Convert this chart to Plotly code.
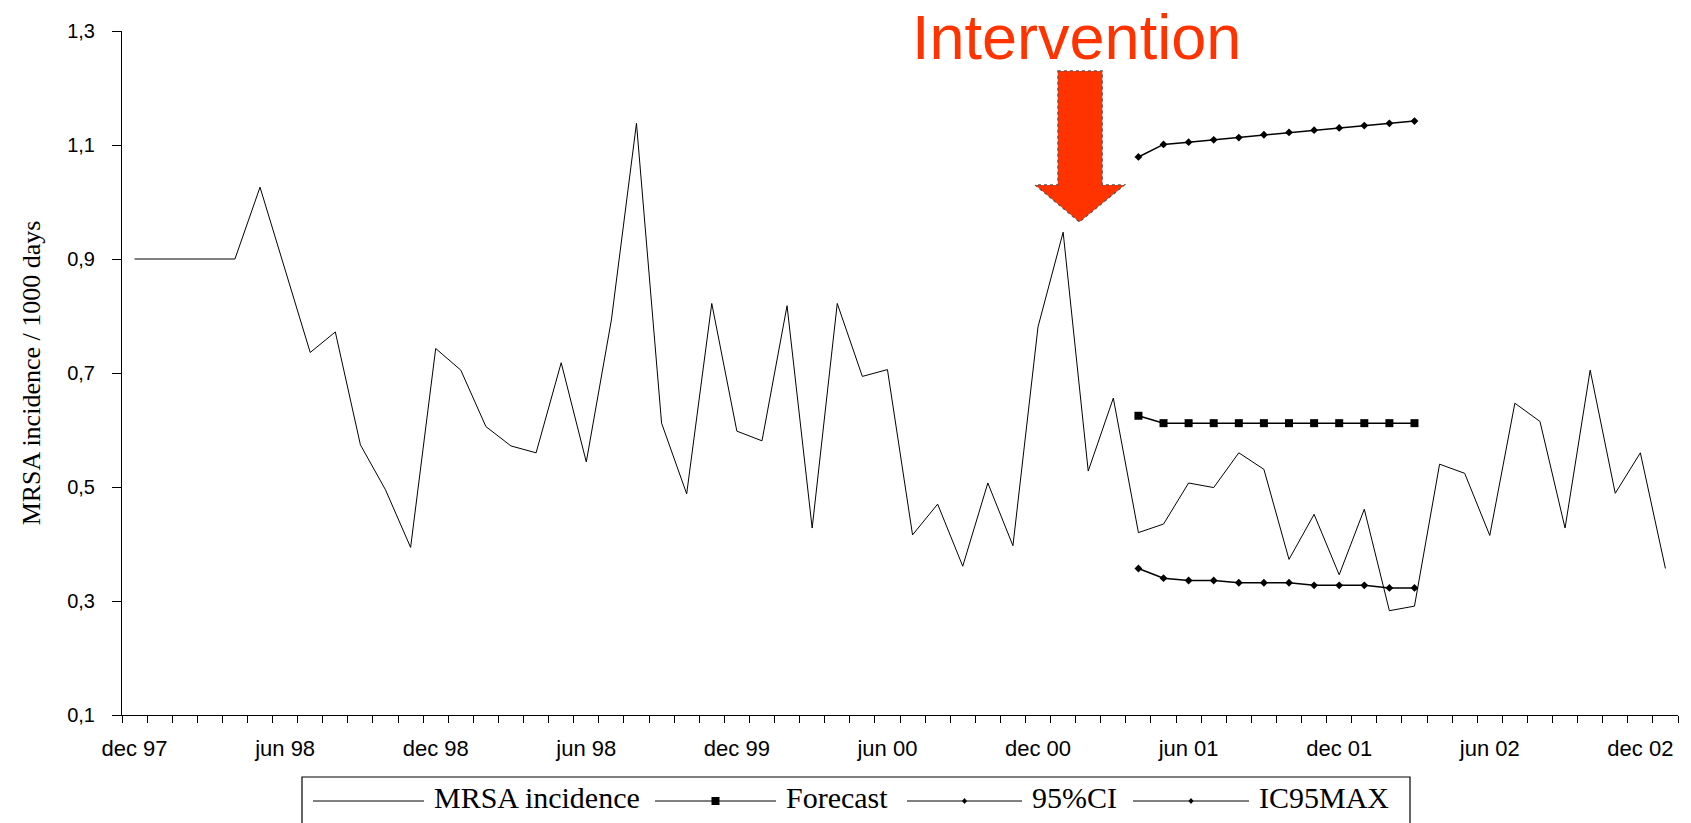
import plotly.graph_objects as go

# ---------------- data ----------------
mrsa_incidence = [
    0.900, 0.900, 0.900, 0.900, 0.900, 1.026, 0.882, 0.736, 0.772, 0.574,
    0.495, 0.394, 0.743, 0.705, 0.606, 0.572, 0.560, 0.718, 0.544, 0.793,
    1.138, 0.612, 0.488, 0.822, 0.598, 0.581, 0.818, 0.428, 0.822, 0.694,
    0.706, 0.416, 0.470, 0.361, 0.507, 0.397, 0.781, 0.947, 0.528, 0.656,
    0.420, 0.435, 0.507, 0.499, 0.560, 0.531, 0.373, 0.452, 0.346, 0.461,
    0.283, 0.291, 0.540, 0.524, 0.415, 0.647, 0.615, 0.428, 0.705, 0.489,
    0.560, 0.357,
]
forecast_start = 40
forecast = [0.625, 0.612, 0.612, 0.612, 0.612, 0.612, 0.612, 0.612, 0.612, 0.612, 0.612, 0.612]
ci95_low = [0.357, 0.340, 0.336, 0.336, 0.332, 0.332, 0.332, 0.3275, 0.3275, 0.3275, 0.323, 0.323]
ic95max = [1.079, 1.101, 1.105, 1.109, 1.113, 1.118, 1.122, 1.126, 1.130, 1.134, 1.138, 1.142]

tick_labels = ["dec 97", "jun 98", "dec 98", "jun 98", "dec 99", "jun 00",
               "dec 00", "jun 01", "dec 01", "jun 02", "dec 02"]
label_every = 6
y_ticks = [0.1, 0.3, 0.5, 0.7, 0.9, 1.1, 1.3]

series_names = ["MRSA incidence", "Forecast", "95%CI", "IC95MAX"]

# ---------------- layout geometry ----------------
W, H = 1691, 823
ML, MR, MT, MB = 122, 13, 31, 108
PW, PH = W - ML - MR, H - MT - MB


def px(X):
    return (X - ML) / PW


def py(Y):
    return (MT + PH - Y) / PH


n = len(mrsa_incidence)
x_all = list(range(n))
x_fc = list(range(forecast_start, forecast_start + len(forecast)))

RED = "#FF3300"
SANS = "Liberation Sans, Arial, sans-serif"
SERIF = "Liberation Serif, Times New Roman, serif"

fig = go.Figure()
fig.add_trace(go.Scatter(x=x_all, y=mrsa_incidence, name=series_names[0], mode="lines",
                         line=dict(color="black", width=1), showlegend=False))
fig.add_trace(go.Scatter(x=x_fc, y=forecast, name=series_names[1], mode="lines+markers",
                         line=dict(color="black", width=1.5),
                         marker=dict(symbol="square", size=8, color="black"), showlegend=False))
fig.add_trace(go.Scatter(x=x_fc, y=ci95_low, name=series_names[2], mode="lines+markers",
                         line=dict(color="black", width=1.5),
                         marker=dict(symbol="diamond", size=6, color="black"), showlegend=False))
fig.add_trace(go.Scatter(x=x_fc, y=ic95max, name=series_names[3], mode="lines+markers",
                         line=dict(color="black", width=1.5),
                         marker=dict(symbol="diamond", size=6, color="black"), showlegend=False))

shapes = []
annotations = []

# Intervention arrow (data coordinates: category index / incidence)
arrow_path = ("M 36.79,1.230 L 38.56,1.230 L 38.56,1.030 L 39.45,1.030 "
              "L 37.65,0.965 L 35.88,1.030 L 36.79,1.030 Z")
shapes.append(dict(type="path", xref="x", yref="y", path=arrow_path,
                   fillcolor=RED, line=dict(color="#555555", width=1.2, dash="dot"),
                   layer="above"))
annotations.append(dict(text="Intervention", xref="paper", yref="paper",
                        x=px(1076), y=py(0), xanchor="center", yanchor="top",
                        showarrow=False, font=dict(family=SANS, size=63, color=RED)))

# Custom legend (long line samples like the original)
shapes.append(dict(type="rect", xref="paper", yref="paper",
                   x0=px(302), x1=px(1410), y0=py(777), y1=py(840),
                   line=dict(color="black", width=1.2), fillcolor="white", layer="above"))
leg_y = 801
items = [
    (313, 424, 434, None),
    (655, 776, 786, "square"),
    (907, 1022, 1032, "diamond"),
    (1133, 1249, 1259, "diamond"),
]
for (lx0, lx1, tx, sym), name in zip(items, series_names):
    shapes.append(dict(type="line", xref="paper", yref="paper",
                       x0=px(lx0), x1=px(lx1), y0=py(leg_y), y1=py(leg_y),
                       line=dict(color="black", width=1), layer="above"))
    cx = (lx0 + lx1) / 2
    if sym == "square":
        shapes.append(dict(type="rect", xref="paper", yref="paper",
                           xsizemode="pixel", ysizemode="pixel",
                           xanchor=px(cx), yanchor=py(leg_y),
                           x0=-4, x1=4, y0=-4, y1=4,
                           fillcolor="black", line=dict(width=0), layer="above"))
    elif sym == "diamond":
        shapes.append(dict(type="path", xref="paper", yref="paper",
                           xsizemode="pixel", ysizemode="pixel",
                           xanchor=px(cx), yanchor=py(leg_y),
                           path="M 0,3 L 2.5,0 L 0,-3 L -2.5,0 Z",
                           fillcolor="black", line=dict(width=0), layer="above"))
    annotations.append(dict(text=name, xref="paper", yref="paper",
                            x=px(tx - 2), y=py(leg_y - 3), xanchor="left", yanchor="middle",
                            showarrow=False, font=dict(family=SERIF, size=30, color="black")))

fig.update_layout(
    width=W, height=H,
    margin=dict(l=ML, r=MR, t=MT, b=MB, pad=0),
    paper_bgcolor="white", plot_bgcolor="white",
    separators=", ",
    showlegend=False,
    shapes=shapes,
    annotations=annotations,
    xaxis=dict(
        range=[-0.5, n - 0.5],
        showgrid=False, zeroline=False,
        showline=True, linecolor="black", linewidth=1,
        tickmode="array",
        tickvals=list(range(0, n, label_every))[:len(tick_labels)],
        ticktext=tick_labels,
        ticks="",
        ticklabelstandoff=14,
        tickfont=dict(family=SANS, size=22, color="black"),
        minor=dict(ticks="outside", ticklen=7, tickwidth=1, tickcolor="black",
                   tickmode="array", tickvals=[i - 0.5 for i in range(n + 1)],
                   showgrid=False),
    ),
    yaxis=dict(
        range=[y_ticks[0], y_ticks[-1]],
        showgrid=False, zeroline=False,
        showline=True, linecolor="black", linewidth=1,
        tickmode="array", tickvals=y_ticks, tickformat=".1f",
        ticks="outside", ticklen=9, tickwidth=1, tickcolor="black",
        ticklabelstandoff=13,
        tickfont=dict(family=SANS, size=20, color="black"),
        title=dict(text="MRSA incidence / 1000 days",
                   font=dict(family=SERIF, size=26, color="black"), standoff=19),
    ),
)

# remove the default 8px page margin so the figure fills the window exactly
fig.write_html("out.html", config={"displayModeBar": False},
               post_script="document.body.style.margin='0';")
